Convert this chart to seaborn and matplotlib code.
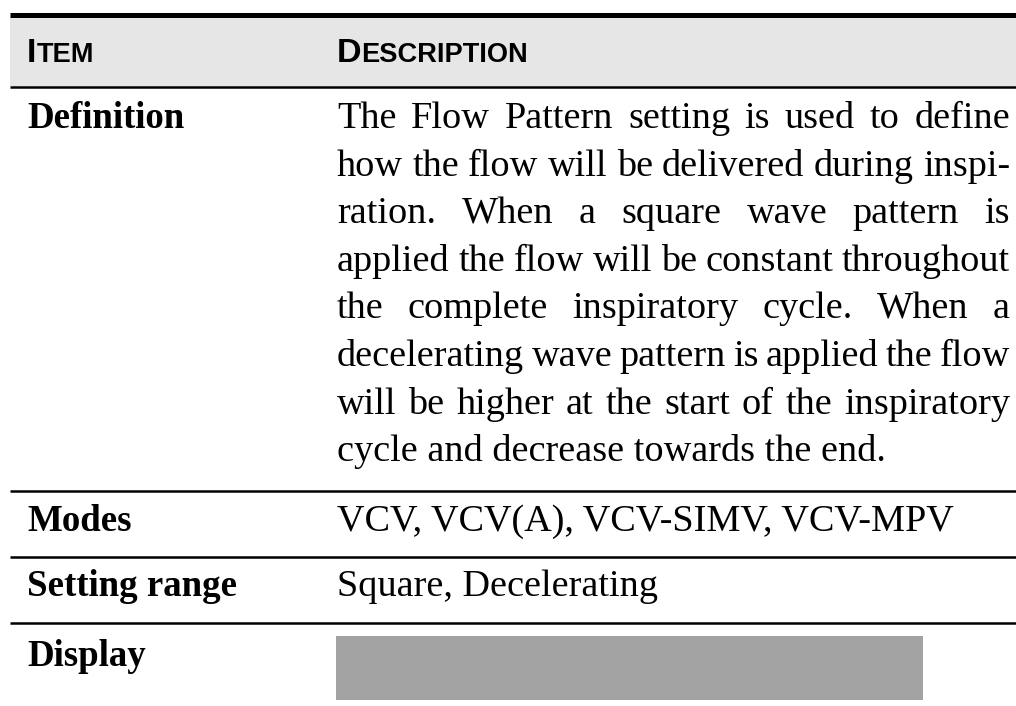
import matplotlib
matplotlib.use("Agg")
import matplotlib.pyplot as plt
import seaborn as sns

# Table content
header_item = "Item"
header_desc = "Description"
items = ["Definition", "Modes", "Setting range", "Display"]
definition_lines = [
    "The Flow Pattern setting is used to define",
    "how the flow will be delivered during inspi-",
    "ration. When a square wave pattern is",
    "applied the flow will be constant throughout",
    "the complete inspiratory cycle. When a",
    "decelerating wave pattern is applied the flow",
    "will be higher at the start of the inspiratory",
    "cycle and decrease towards the end.",
]
modes_text = "VCV, VCV(A), VCV-SIMV, VCV-MPV"
range_text = "Square, Decelerating"

sns.set_style("white")
plt.rcParams["font.family"] = ["Liberation Serif", "DejaVu Serif"]
plt.rcParams["text.color"] = "black"

W, H = 1016, 706
fig = plt.figure(figsize=(W / 100, H / 100), dpi=100)
ax = fig.add_axes([0, 0, 1, 1])
ax.set_xlim(0, W)
ax.set_ylim(H, 0)
ax.axis("off")
renderer = fig.canvas.get_renderer()

x_item, x_desc, x_right = 27, 337, 1010
serif_size = 27.5
bold_size = 26.6
sans = "Liberation Sans"


def width_of(t):
    return t.get_window_extent(renderer=renderer).width


def small_caps(x, y, word, size):
    t = ax.text(x, y, word[0].upper(), fontsize=size, fontweight="bold",
                family=sans, va="baseline", color="black")
    w = width_of(t)
    ax.text(x + w, y, word[1:].upper(), fontsize=size * 0.8,
            fontweight="bold", family=sans, va="baseline", color="black")


def justify(line, y, left, right):
    words = line.split(" ")
    arts = [ax.text(0, y, wd, fontsize=serif_size, va="baseline", color="black")
            for wd in words]
    widths = [width_of(a) for a in arts]
    gap = (right - left - sum(widths)) / max(len(words) - 1, 1)
    x = left
    for a, w in zip(arts, widths):
        a.set_x(x)
        x += w + gap


# header band and rules
ax.fill_between([10, W], 17, 86, color="#e6e6e6", lw=0)
ax.plot([10, W], [15, 15], color="black", lw=3.6, solid_capstyle="butt")
ax.plot([10, W], [86.5, 86.5], color="black", lw=1.8, solid_capstyle="butt")
for yy in [490.5, 556.5, 622.5]:
    ax.plot([10, W], [yy, yy], color="black", lw=1.8, solid_capstyle="butt")

small_caps(x_item, 62.5, header_item, 24.5)
small_caps(x_desc, 62.5, header_desc, 24.5)

# item column
item_y = [128, 531, 596, 666]
for name, yy in zip(items, item_y):
    ax.text(x_item, yy, name, fontsize=bold_size, fontweight="bold",
            va="baseline", color="black")

# definition paragraph
step = 47.6
for i, line in enumerate(definition_lines):
    yy = 128 + i * step
    if i < len(definition_lines) - 1:
        justify(line, yy, x_desc, x_right)
    else:
        ax.text(x_desc, yy, line, fontsize=serif_size, va="baseline", color="black")

ax.text(x_desc, 531, modes_text, fontsize=serif_size, va="baseline", color="black")
ax.text(x_desc, 596, range_text, fontsize=serif_size, va="baseline", color="black")

# display placeholder
ax.fill_between([336, 923], 636, 700, color="#a3a3a3", lw=0)

fig.savefig("out.png", dpi=100)
